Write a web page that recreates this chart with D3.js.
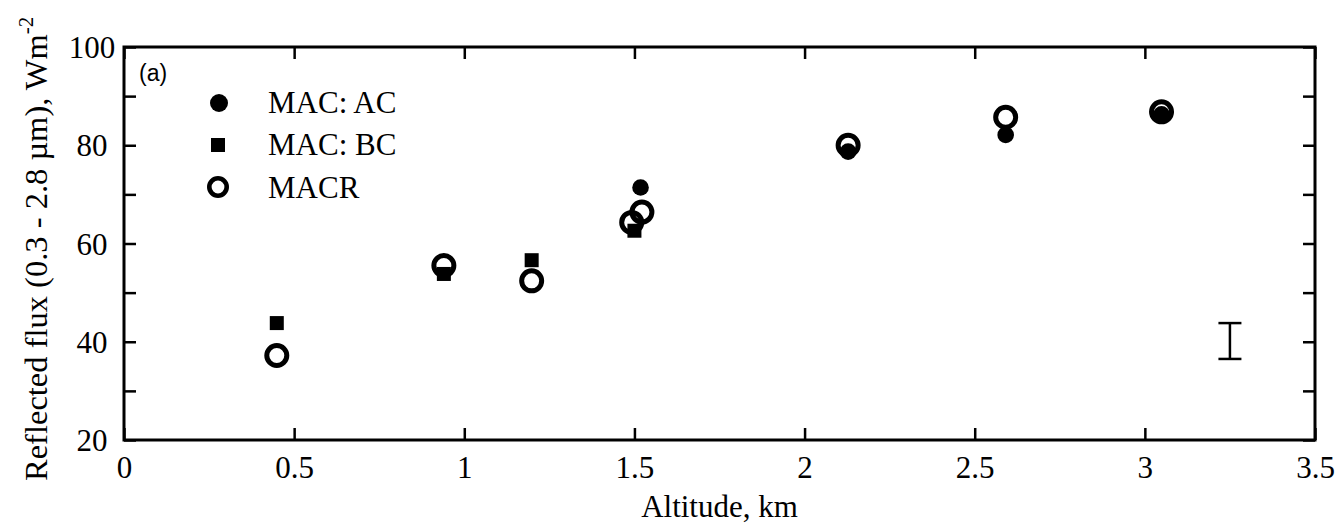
<!DOCTYPE html>
<html><head><meta charset="utf-8">
<script src="https://cdn.jsdelivr.net/npm/d3@7"></script>
<style>body{margin:0;background:#fff}svg{display:block}</style>
</head><body>
<svg id="c" width="1342" height="529"></svg>
<script>
const acX = [1.518, 2.128, 2.591, 3.049];
const acY = [71.4, 78.7, 82.1, 86.3];
const bcX = [0.449, 0.94, 1.198, 1.50];
const bcY = [43.8, 53.8, 56.6, 62.6];
const macrX = [0.449, 0.94, 1.198, 1.492, 1.522, 2.128, 2.591, 3.049];
const macrY = [37.2, 55.5, 52.4, 64.3, 66.4, 80.0, 85.7, 86.8];
const errX = 3.25, errLo = 36.5, errHi = 43.8;
const xTicks = [0, 0.5, 1, 1.5, 2, 2.5, 3, 3.5];
const xTickLabels = ["0", "0.5", "1", "1.5", "2", "2.5", "3", "3.5"];
const yTicks = [20, 30, 40, 50, 60, 70, 80, 90, 100];
const yTickLabels = [20, 40, 60, 80, 100];

const svg = d3.select("#c");
const L = 124, R = 1315, T = 47, B = 440;
const x = d3.scaleLinear().domain([0, 3.5]).range([L, R]);
const y = d3.scaleLinear().domain([20, 100]).range([B, T]);
const font = "'Liberation Serif','Times New Roman',serif";
const FS = 31;

function styleAxis(g){
  g.select(".domain").remove();
  g.selectAll(".tick line").attr("stroke","#000").attr("stroke-width",2.5);
  g.selectAll(".tick text").attr("font-family",font).attr("font-size",FS).attr("fill","#000");
}
// bottom
svg.append("g").attr("transform",`translate(0,${B})`)
  .call(d3.axisBottom(x).tickValues(xTicks).tickSize(-12).tickPadding(16).tickFormat((d,i)=>xTickLabels[i]))
  .call(styleAxis);
// top
svg.append("g").attr("transform",`translate(0,${T})`)
  .call(d3.axisTop(x).tickValues(xTicks).tickSize(-12).tickFormat(""))
  .call(styleAxis);
// left
svg.append("g").attr("transform",`translate(${L},0)`)
  .call(d3.axisLeft(y).tickValues(yTicks).tickSize(-12).tickFormat(d=>yTickLabels.includes(d)?d:""))
  .call(styleAxis)
  .call(g=>g.selectAll(".tick text").attr("text-anchor","middle").attr("x",92-L).attr("dy","0.34em"));
// right
svg.append("g").attr("transform",`translate(${R},0)`)
  .call(d3.axisRight(y).tickValues(yTicks).tickSize(-12).tickFormat(""))
  .call(styleAxis);
// frame
svg.append("rect").attr("x",L).attr("y",T).attr("width",R-L).attr("height",B-T)
  .attr("fill","none").attr("stroke","#000").attr("stroke-width",3);

// error bar
const eg = svg.append("g").attr("stroke","#000").attr("stroke-width",2.5);
eg.append("line").attr("x1",x(errX)).attr("x2",x(errX)).attr("y1",y(errLo)).attr("y2",y(errHi));
eg.append("line").attr("x1",x(errX)-11.5).attr("x2",x(errX)+11.5).attr("y1",y(errLo)).attr("y2",y(errLo));
eg.append("line").attr("x1",x(errX)-11.5).attr("x2",x(errX)+11.5).attr("y1",y(errHi)).attr("y2",y(errHi));

// series
const sq = 14;
svg.append("g").selectAll("rect").data(bcX).join("rect")
  .attr("x",(d)=>x(d)-sq/2).attr("y",(d,i)=>y(bcY[i])-sq/2).attr("width",sq).attr("height",sq).attr("fill","#000");
svg.append("g").selectAll("circle").data(acX).join("circle")
  .attr("cx",d=>x(d)).attr("cy",(d,i)=>y(acY[i])).attr("r",8.3).attr("fill","#000");
svg.append("g").selectAll("circle").data(macrX).join("circle")
  .attr("cx",d=>x(d)).attr("cy",(d,i)=>y(macrY[i])).attr("r",10).attr("fill","none")
  .attr("stroke","#000").attr("stroke-width",5);

// legend
const lg = svg.append("g");
lg.append("circle").attr("cx",219).attr("cy",103).attr("r",9).attr("fill","#000");
lg.append("rect").attr("x",211).attr("y",138).attr("width",sq).attr("height",sq).attr("fill","#000");
lg.append("circle").attr("cx",218).attr("cy",187).attr("r",8.7).attr("fill","none").attr("stroke","#000").attr("stroke-width",4.6);
[["MAC: AC",113],["MAC: BC",155],["MACR",198]].forEach(([t,yy])=>{
  lg.append("text").attr("x",268).attr("y",yy).attr("font-family",font)
    .attr("font-size",FS).text(t);
});
svg.append("text").attr("x",139).attr("y",81).attr("font-family","'Liberation Sans',Arial,sans-serif")
  .attr("font-size",23).text("(a)");

// axis titles
svg.append("text").attr("x",(L+R)/2).attr("y",517).attr("text-anchor","middle")
  .attr("font-family",font).attr("font-size",FS).text("Altitude, km");
const yt = svg.append("text").attr("transform",`translate(47,481) rotate(-90)`).attr("text-anchor","start")
  .attr("font-family",font).attr("font-size",32.5);
yt.append("tspan").text("Reflected flux (0.3 - 2.8 µm), Wm");
yt.append("tspan").attr("font-size",21).attr("dy",-14).text("-2");
</script>
</body></html>
